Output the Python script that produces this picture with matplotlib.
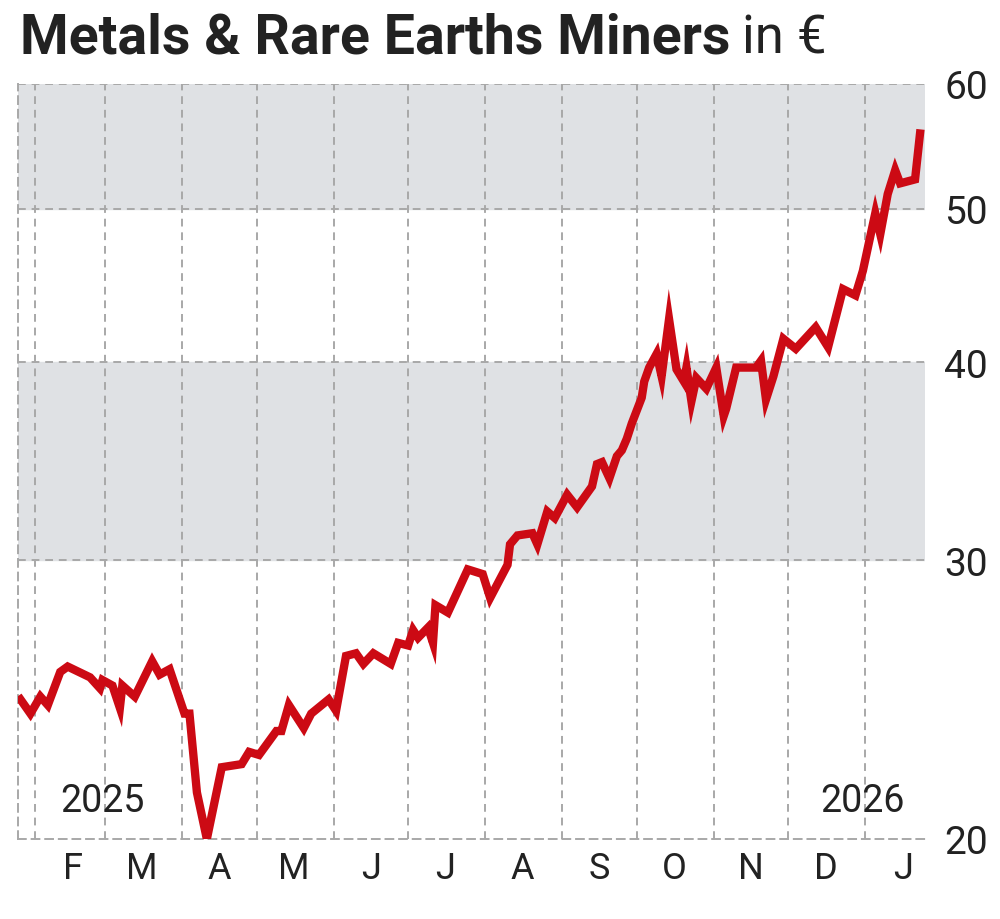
import matplotlib.pyplot as plt
import matplotlib.ticker as mticker
import pandas as pd

plt.rcParams['font.family'] = ['Roboto', 'DejaVu Sans']

dates = ["2025-01-26", "2025-01-30", "2025-02-03", "2025-02-06", "2025-02-11", "2025-02-14",
         "2025-02-23", "2025-02-27", "2025-02-28", "2025-03-04", "2025-03-07", "2025-03-08",
         "2025-03-13", "2025-03-20", "2025-03-23", "2025-03-27", "2025-04-02", "2025-04-04",
         "2025-04-07", "2025-04-11", "2025-04-17", "2025-04-25", "2025-04-28", "2025-05-02",
         "2025-05-09", "2025-05-11", "2025-05-14", "2025-05-20", "2025-05-23", "2025-05-30",
         "2025-06-02", "2025-06-06", "2025-06-10", "2025-06-13", "2025-06-17", "2025-06-24",
         "2025-06-27", "2025-07-01", "2025-07-03", "2025-07-05", "2025-07-09", "2025-07-11",
         "2025-07-12", "2025-07-17", "2025-07-25", "2025-07-31", "2025-08-03", "2025-08-10",
         "2025-08-11", "2025-08-14", "2025-08-20", "2025-08-22", "2025-08-26", "2025-08-29",
         "2025-09-03", "2025-09-07", "2025-09-13", "2025-09-15", "2025-09-17", "2025-09-20",
         "2025-09-23", "2025-09-25", "2025-09-27", "2025-09-29", "2025-10-03", "2025-10-04",
         "2025-10-06", "2025-10-09", "2025-10-11", "2025-10-14", "2025-10-17", "2025-10-20",
         "2025-10-21", "2025-10-23", "2025-10-25", "2025-10-29", "2025-10-30", "2025-11-02",
         "2025-11-05", "2025-11-06", "2025-11-10", "2025-11-18", "2025-11-20", "2025-11-22",
         "2025-11-25", "2025-11-29", "2025-12-04", "2025-12-12", "2025-12-17", "2025-12-23",
         "2025-12-28", "2025-12-31", "2026-01-05", "2026-01-07", "2026-01-10", "2026-01-13",
         "2026-01-15", "2026-01-21", "2026-01-23"]
prices = [24.5, 24.0, 24.6, 24.3, 25.5, 25.7,
          25.3, 24.9, 25.2, 25.0, 24.2, 25.0,
          24.6, 25.9, 25.4, 25.6, 24.0, 24.0,
          21.4, 20.0, 22.2, 22.3, 22.7, 22.6,
          23.4, 23.4, 24.3, 23.5, 24.0, 24.5,
          24.1, 26.1, 26.2, 25.8, 26.2, 25.8,
          26.6, 26.5, 27.1, 26.8, 27.2, 26.6,
          28.1, 27.8, 29.6, 29.4, 28.4, 29.8,
          30.7, 31.1, 31.2, 30.7, 32.2, 31.9,
          33.0, 32.4, 33.4, 34.5, 34.6, 33.8,
          34.9, 35.2, 35.8, 36.6, 38.0, 38.9,
          39.7, 40.5, 39.2, 42.6, 39.6, 38.9,
          39.7, 37.8, 39.1, 38.5, 38.8, 39.7,
          37.0, 37.4, 39.7, 39.7, 40.1, 37.9,
          39.2, 41.4, 40.8, 42.1, 40.9, 44.5,
          44.1, 45.7, 49.7, 48.2, 51.1, 52.9,
          51.9, 52.2, 55.8]
y_ticks = [20, 30, 40, 50, 60]
month_labels = ["F", "M", "A", "M", "J", "J", "A", "S", "O", "N", "D", "J"]

x = pd.to_datetime(dates)
fig = plt.figure(figsize=(10, 9.2), dpi=100)
ax = fig.add_axes([0.018, 0.087, 0.907, 0.821])
ax.set_yscale('log')
start, end = pd.Timestamp("2025-01-25"), pd.Timestamp("2026-01-25")
ax.set_xlim(start, end)

# shaded bands
ax.axhspan(50, 61, color='#dfe1e4', zorder=0)
ax.axhspan(30, 40, color='#dfe1e4', zorder=0)
ax.set_ylim(20, 60)

months = pd.date_range("2025-02-01", "2026-01-01", freq="MS")
for m in months:
    ax.axvline(m, color='#a8a8a8', ls=(0, (4, 3)), lw=1.4, zorder=1)
for v in [30, 40, 50, 60]:
    ax.axhline(v, color='#a8a8a8', ls=(0, (4, 3)), lw=1.4, zorder=1)

ax.plot(x, prices, color='#cc0a14', lw=6, solid_joinstyle='miter', zorder=3)

for s in ['top', 'right']:
    ax.spines[s].set_visible(False)
for s in ['left', 'bottom']:
    ax.spines[s].set_color('#a8a8a8')
    ax.spines[s].set_linestyle((0, (4, 3)))
    ax.spines[s].set_linewidth(1.4)

ax.yaxis.tick_right()
ax.yaxis.set_major_locator(mticker.FixedLocator(y_ticks))
ax.yaxis.set_minor_locator(mticker.NullLocator())
ax.set_yticklabels([str(t) for t in y_ticks])
ax.tick_params(axis='y', length=0, labelsize=28, pad=14, colors='#222222')

mids = [m + pd.Timedelta(days=15) for m in months]
ax.set_xticks(mids)
ax.set_xticklabels(month_labels)
ax.xaxis.set_minor_locator(mticker.NullLocator())
ax.tick_params(axis='x', length=0, labelsize=26, pad=8, colors='#222222')

ax.text(pd.Timestamp("2025-02-28"), 20.6, "2025", fontsize=27, ha='center', va='bottom', color='#222222')
ax.text(pd.Timestamp("2025-12-31"), 20.6, "2026", fontsize=27, ha='center', va='bottom', color='#222222')

title = fig.text(0.02, 0.958, "Metals & Rare Earths Miners", fontsize=40, fontweight='bold',
                 va='center', ha='left', color='#222222')
fig.canvas.draw()
bb = title.get_window_extent()
fig.text(bb.x1 / fig.bbox.width + 0.012, 0.958, "in €", fontsize=38,
         va='center', ha='left', color='#222222')

fig.savefig("out.png", dpi=100)
